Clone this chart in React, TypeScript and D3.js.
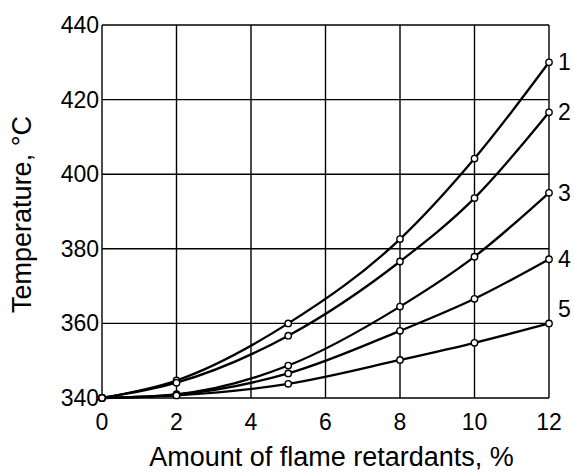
import React from "react";
import * as d3 from "d3";

const xValues = [0, 2, 5, 8, 10, 12];
const series1 = [340, 344.7, 360, 382.6, 404.2, 430];
const series2 = [340, 344.1, 356.7, 376.6, 393.6, 416.6];
const series3 = [340, 341.0, 348.7, 364.5, 377.9, 395];
const series4 = [340, 340.9, 346.6, 358, 366.6, 377.2];
const series5 = [340, 340.7, 343.8, 350.2, 354.8, 360];
const seriesNames = ["1", "2", "3", "4", "5"];
const xTicks = [0, 2, 4, 6, 8, 10, 12];
const yTicks = [340, 360, 380, 400, 420, 440];
const xTitle = "Amount of flame retardants, %";
const yTitle = "Temperature, °C";

const W = 574;
const H = 473;
const M = { left: 102, right: 549, top: 25, bottom: 398 };

export default function App() {
  const x = d3.scaleLinear().domain([0, 12]).range([M.left, M.right]);
  const y = d3.scaleLinear().domain([340, 440]).range([M.bottom, M.top]);
  const all = [series1, series2, series3, series4, series5];
  const line = d3
    .line<number>()
    .x((_, i) => x(xValues[i]))
    .y((v) => y(v))
    .curve(d3.curveMonotoneX);
  const labelDy = [0, 0, 0, 0, -14];
  const tickFont = "'Liberation Sans', Arial, sans-serif";
  const titleFont = "'Liberation Sans', Arial, sans-serif";

  return (
    <svg
      width={W}
      height={H}
      style={{ position: "absolute", left: 0, top: 0, background: "#fff" }}
    >
      <rect x={0} y={0} width={W} height={H} fill="#fff" />
      {xTicks.map((t) => (
        <line key={"gx" + t} x1={x(t)} x2={x(t)} y1={y(340)} y2={y(440)} stroke="#000" strokeWidth={1.4} />
      ))}
      {yTicks.map((t) => (
        <line key={"gy" + t} x1={x(0)} x2={x(12)} y1={y(t)} y2={y(t)} stroke="#000" strokeWidth={1.4} />
      ))}
      {xTicks.map((t) => (
        <text key={"tx" + t} x={x(t)} y={y(340) + 32} textAnchor="middle" fontFamily={tickFont} fontSize={23} fill="#000">
          {t}
        </text>
      ))}
      {yTicks.map((t) => (
        <text key={"ty" + t} x={x(0) - 3} y={y(t) + 8} textAnchor="end" fontFamily={tickFont} fontSize={23} fill="#000">
          {t}
        </text>
      ))}
      {all.map((s, k) => (
        <path key={"l" + k} d={line(s) || ""} fill="none" stroke="#000" strokeWidth={2.3} />
      ))}
      {all.map((s, k) =>
        s.map((v, i) => (
          <circle key={"c" + k + "-" + i} cx={x(xValues[i])} cy={y(v)} r={3.2} fill="#fff" stroke="#000" strokeWidth={1.4} />
        ))
      )}
      {all.map((s, k) => (
        <text
          key={"n" + k}
          x={x(12) + 9}
          y={y(s[s.length - 1]) + 8 + labelDy[k]}
          fontFamily={tickFont}
          fontSize={23}
          fill="#000"
        >
          {seriesNames[k]}
        </text>
      ))}
      <text x={(M.left + M.right) / 2 + 6} y={466} textAnchor="middle" fontFamily={titleFont} fontSize={27} fill="#000">
        {xTitle}
      </text>
      <text
        transform={`translate(31, ${(M.top + M.bottom) / 2 + 3}) rotate(-90)`}
        textAnchor="middle"
        fontFamily={titleFont}
        fontSize={27}
        fill="#000"
      >
        {yTitle}
      </text>
    </svg>
  );
}
